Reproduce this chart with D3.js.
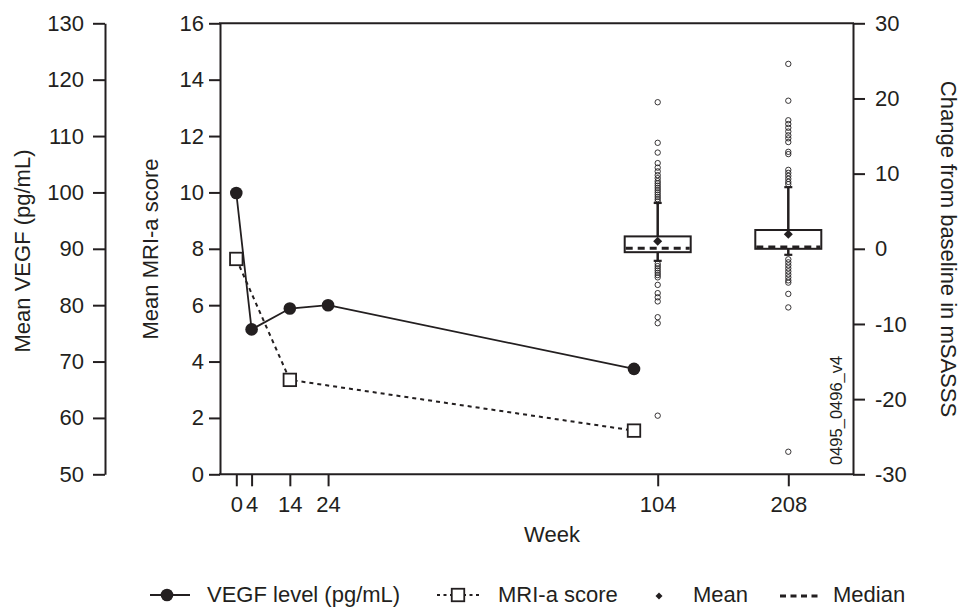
<!DOCTYPE html>
<html>
<head>
<meta charset="utf-8">
<script src="https://cdn.jsdelivr.net/npm/d3@7"></script>
<style>
  html, body { margin: 0; padding: 0; background: #fff; }
  svg { display: block; }
  text { font-family: "Liberation Sans", Arial, Helvetica, sans-serif; fill: #231f20; }
</style>
</head>
<body>
<svg id="chart" width="960" height="607"></svg>
<script>
// ---------------- data ----------------
const weeks = [0, 4, 14, 24, 104];
const vegfLevel = [99.9, 75.7, 79.4, 80.0, 68.7];
const mriWeeks = [0, 14, 104];
const mriScore = [7.64, 3.35, 1.55];

const boxWeeks = ["104", "208"];
const boxQ1 = [-0.45, 0.0];
const boxMedian = [0.07, 0.25];
const boxQ3 = [1.65, 2.5];
const boxMean = [1.0, 1.95];
const boxWhiskerLow = [-1.6, -0.8];
const boxWhiskerHigh = [6.1, 8.2];
const boxOutliers = [
  [19.5, 14.1, 12.8, 11.4, 10.8, 10.3, 9.8, 9.4, 9.0, 8.7, 8.4, 8.1, 7.8, 7.5, 7.2, 6.9, 6.6, 6.3,
   -2.0, -2.3, -2.6, -2.9, -3.2, -3.5, -3.8, -4.8, -5.9, -6.45, -7.0, -9.1, -9.9, -22.2],
  [24.6, 19.7, 17.1, 16.6, 16.1, 15.6, 15.1, 14.7, 14.2, 12.9, 12.6, 10.5, 10.1, 9.7, 9.3, 8.9, 8.6,
   -1.4, -1.8, -2.2, -2.6, -3.0, -3.4, -3.8, -4.2, -4.5, -6.0, -7.8, -27.0]
];

const vegfTicks = [50, 60, 70, 80, 90, 100, 110, 120, 130];
const mriTicks = [0, 2, 4, 6, 8, 10, 12, 14, 16];
const changeTicks = [-30, -20, -10, 0, 10, 20, 30];
const weekTicks = [0, 4, 14, 24];

const legendLabels = ["VEGF level (pg/mL)", "MRI-a score", "Mean", "Median"];

// ---------------- layout ----------------
const svg = d3.select("#chart");
const FONT = 22;
const ink = "#231f20";

const plotTop = 23.3, plotBottom = 474.3;
const leftX = 220, rightX = 853, vegfX = 105;

const x = d3.scaleLinear().domain([0, 104]).range([236.3, 634]);
const xBox = d3.scalePoint().domain(boxWeeks).range([657.7, 788.3]);
const yMri = d3.scaleLinear().domain([0, 16]).range([plotBottom, plotTop]);
const yVegf = d3.scaleLinear().domain([50, 130]).range([plotBottom, plotTop]);
const yChg = d3.scaleLinear().domain([-30, 30]).range([plotBottom, plotTop]);

const fmt = d => String(d);

function styleAxis(g) {
  g.selectAll("path.domain").attr("stroke", ink).attr("stroke-width", 2);
  g.selectAll(".tick line").attr("stroke", ink).attr("stroke-width", 2);
  g.selectAll(".tick text").attr("fill", ink)
    .style("font-size", FONT + "px")
    .style("font-family", '"Liberation Sans", Arial, Helvetica, sans-serif');
}

// VEGF axis (far left)
svg.append("g").attr("transform", `translate(${vegfX},0)`)
  .call(d3.axisLeft(yVegf).tickValues(vegfTicks).tickFormat(fmt).tickSize(12).tickPadding(9).tickSizeOuter(0))
  .call(styleAxis);

// MRI axis
svg.append("g").attr("transform", `translate(${leftX},0)`)
  .call(d3.axisLeft(yMri).tickValues(mriTicks).tickFormat(fmt).tickSize(11).tickPadding(5).tickSizeOuter(0))
  .call(styleAxis);

// Right axis
svg.append("g").attr("transform", `translate(${rightX},0)`)
  .call(d3.axisRight(yChg).tickValues(changeTicks).tickFormat(fmt).tickSize(12).tickPadding(10).tickSizeOuter(0))
  .call(styleAxis);

// Bottom axis (week ticks + box categories)
const gb1 = svg.append("g").attr("transform", `translate(0,${plotBottom})`)
  .call(d3.axisBottom(x).tickValues(weekTicks).tickFormat(fmt).tickSize(12).tickPadding(10))
  .call(styleAxis);
gb1.select("path.domain").remove();
const gb2 = svg.append("g").attr("transform", `translate(0,${plotBottom})`)
  .call(d3.axisBottom(xBox).tickSize(12).tickPadding(10))
  .call(styleAxis);
gb2.select("path.domain").remove();

// frame lines (bottom and top)
svg.append("line").attr("x1", leftX - 1).attr("x2", rightX + 1).attr("y1", plotBottom).attr("y2", plotBottom)
  .attr("stroke", ink).attr("stroke-width", 2);
svg.append("line").attr("x1", leftX - 1).attr("x2", rightX + 1).attr("y1", plotTop).attr("y2", plotTop)
  .attr("stroke", ink).attr("stroke-width", 2);

// axis titles
svg.append("text").attr("transform", "translate(30,251) rotate(-90)")
  .attr("text-anchor", "middle").style("font-size", FONT + "px").text("Mean VEGF (pg/mL)");
svg.append("text").attr("transform", "translate(158,249) rotate(-90)")
  .attr("text-anchor", "middle").style("font-size", FONT + "px").text("Mean MRI-a score");
svg.append("text").attr("transform", "translate(941,249) rotate(90)")
  .attr("text-anchor", "middle").style("font-size", FONT + "px").text("Change from baseline in mSASSS");
svg.append("text").attr("x", 552).attr("y", 541.5)
  .attr("text-anchor", "middle").style("font-size", FONT + "px").text("Week");

// watermark id
svg.append("text").attr("transform", "translate(842,465) rotate(-90)")
  .attr("text-anchor", "start").style("font-size", "16.5px").text("0495_0496_v4");

// ---------------- series ----------------
const mriData = mriWeeks.map((w, i) => ({ w, v: mriScore[i] }));
const vegfData = weeks.map((w, i) => ({ w, v: vegfLevel[i] }));

// MRI dashed line
svg.append("path").datum(mriData)
  .attr("d", d3.line().x(d => x(d.w)).y(d => yMri(d.v)))
  .attr("fill", "none").attr("stroke", ink).attr("stroke-width", 2).attr("stroke-dasharray", "4,4");

// VEGF solid line
svg.append("path").datum(vegfData)
  .attr("d", d3.line().x(d => x(d.w)).y(d => yVegf(d.v)))
  .attr("fill", "none").attr("stroke", ink).attr("stroke-width", 1.8);

// MRI squares
const sq = 12.5;
svg.selectAll("rect.mri").data(mriData).join("rect").attr("class", "mri")
  .attr("x", d => x(d.w) - sq / 2).attr("y", d => yMri(d.v) - sq / 2)
  .attr("width", sq).attr("height", sq)
  .attr("fill", "#fff").attr("stroke", ink).attr("stroke-width", 1.8);

// VEGF dots
svg.selectAll("circle.vegf").data(vegfData).join("circle").attr("class", "vegf")
  .attr("cx", d => x(d.w)).attr("cy", d => yVegf(d.v)).attr("r", 6.3)
  .attr("fill", ink);

// ---------------- box plots ----------------
const boxW = 66, capW = 8;
const diamond = (cx, cy, r) => `M${cx},${cy - r}L${cx + r},${cy}L${cx},${cy + r}L${cx - r},${cy}Z`;

boxWeeks.forEach((k, i) => {
  const cx = xBox(k);
  const g = svg.append("g");
  // whiskers
  g.append("line").attr("x1", cx).attr("x2", cx).attr("y1", yChg(boxQ3[i])).attr("y2", yChg(boxWhiskerHigh[i]))
    .attr("stroke", ink).attr("stroke-width", 2.5);
  g.append("line").attr("x1", cx).attr("x2", cx).attr("y1", yChg(boxQ1[i])).attr("y2", yChg(boxWhiskerLow[i]))
    .attr("stroke", ink).attr("stroke-width", 2.5);
  [boxWhiskerHigh[i], boxWhiskerLow[i]].forEach(v => {
    g.append("line").attr("x1", cx - capW / 2).attr("x2", cx + capW / 2).attr("y1", yChg(v)).attr("y2", yChg(v))
      .attr("stroke", ink).attr("stroke-width", 2.2);
  });
  // outliers
  g.selectAll("circle").data(boxOutliers[i]).join("circle")
    .attr("cx", cx).attr("cy", d => yChg(d)).attr("r", 2.7)
    .attr("fill", "none").attr("stroke", ink).attr("stroke-width", 0.9);
  // box
  g.append("rect").attr("x", cx - boxW / 2).attr("width", boxW)
    .attr("y", yChg(boxQ3[i])).attr("height", yChg(boxQ1[i]) - yChg(boxQ3[i]))
    .attr("fill", "#fff").attr("stroke", ink).attr("stroke-width", 2);
  // median
  g.append("line").attr("x1", cx - boxW / 2 + 1).attr("x2", cx + boxW / 2 - 1)
    .attr("y1", yChg(boxMedian[i])).attr("y2", yChg(boxMedian[i]))
    .attr("stroke", ink).attr("stroke-width", 3).attr("stroke-dasharray", "7,5");
  // mean
  g.append("path").attr("d", diamond(cx, yChg(boxMean[i]), 4.5)).attr("fill", ink);
});

// ---------------- legend ----------------
const ly = 595, lb = 602.4;
const lg = svg.append("g");
// VEGF
lg.append("line").attr("x1", 150).attr("x2", 190).attr("y1", ly).attr("y2", ly).attr("stroke", ink).attr("stroke-width", 1.8);
lg.append("circle").attr("cx", 167).attr("cy", ly).attr("r", 6.3).attr("fill", ink);
lg.append("text").attr("x", 207).attr("y", lb).style("font-size", FONT + "px").text(legendLabels[0]);
// MRI
lg.append("line").attr("x1", 437).attr("x2", 479).attr("y1", ly).attr("y2", ly)
  .attr("stroke", ink).attr("stroke-width", 2).attr("stroke-dasharray", "3,3.5");
lg.append("rect").attr("x", 458 - sq / 2).attr("y", ly - sq / 2).attr("width", sq).attr("height", sq)
  .attr("fill", "#fff").attr("stroke", ink).attr("stroke-width", 1.8);
lg.append("text").attr("x", 498).attr("y", lb).style("font-size", FONT + "px").text(legendLabels[1]);
// Mean
lg.append("path").attr("d", diamond(659, ly + 1, 3.5)).attr("fill", ink);
lg.append("text").attr("x", 693).attr("y", lb).style("font-size", FONT + "px").text(legendLabels[2]);
// Median
lg.append("line").attr("x1", 780).attr("x2", 818).attr("y1", ly + 1).attr("y2", ly + 1)
  .attr("stroke", ink).attr("stroke-width", 3).attr("stroke-dasharray", "6,4.5");
lg.append("text").attr("x", 833).attr("y", lb).style("font-size", FONT + "px").text(legendLabels[3]);
</script>
</body>
</html>
